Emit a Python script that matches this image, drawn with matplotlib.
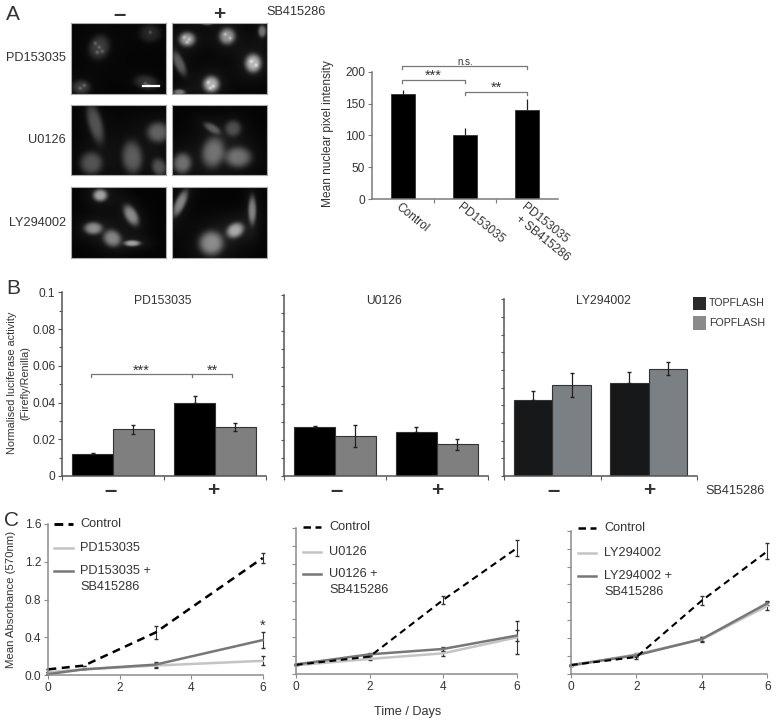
import numpy as np
import matplotlib
matplotlib.use("Agg")
import matplotlib.pyplot as plt

W, H = 778, 722
plt.rcParams['font.family'] = ['Liberation Sans', 'DejaVu Sans']
TXT = '#333333'
AXC = '#7a7a7a'

# panel A bars
a_cats = ['Control', 'PD153035', 'PD153035 + SB415286']
a_vals = [165, 100, 140]
a_errs = [7, 11, 17]

# panel B bars, one list per inhibitor: minus, plus
b_titles = ['PD153035', 'U0126', 'LY294002']
b_top = [[0.0122, 0.0399], [0.0269, 0.0245], [0.0428, 0.0525]]
b_top_err = [[0.0005, 0.0034], [0.0006, 0.0024], [0.0051, 0.0066]]
b_fop = [[0.0254, 0.0265], [0.0219, 0.0175], [0.0515, 0.0608]]
b_fop_err = [[0.0025, 0.0022], [0.0061, 0.0031], [0.0069, 0.0038]]

# panel C curves
c1_days = [0, 1, 3, 6]
c1_control = [0.06, 0.10, 0.45, 1.24]
c1_control_err = [0, 0, 0.065, 0.055]
c1_drug = [0.03, 0.06, 0.10, 0.15]
c1_drug_err = [0, 0, 0.03, 0.048]
c1_combo = [0.01, 0.06, 0.11, 0.37]
c1_combo_err = [0, 0, 0.03, 0.088]

c2_days = [0, 2, 4, 6]
c2_control = [0.10, 0.19, 0.81, 1.375]
c2_control_err = [0, 0.02, 0.045, 0.087]
c2_drug = [0.095, 0.165, 0.226, 0.40]
c2_drug_err = [0, 0.015, 0.025, 0.177]
c2_combo = [0.105, 0.215, 0.274, 0.42]
c2_combo_err = [0, 0.015, 0.025, 0.06]

c3_days = [0, 2, 4, 6]
c3_control = [0.10, 0.19, 0.82, 1.37]
c3_control_err = [0, 0.02, 0.05, 0.09]
c3_drug = [0.09, 0.22, 0.387, 0.76]
c3_drug_err = [0, 0.015, 0.03, 0.04]
c3_combo = [0.10, 0.21, 0.39, 0.79]
c3_combo_err = [0, 0.015, 0.025, 0.02]

# micrograph cells: centre x, centre y, half width, half height, angle, brightness (reference pixels)
cells_pd_minus = [(99, 47, 10, 12, 20, .2), (150, 33, 11, 9, 0, .12), (81, 87, 9, 7, 0, .2), (146, 82, 12, 7, 10, .16)]
cells_pd_plus = [(187, 39, 8, 7, 0, .52), (227, 36, 8, 8, 0, .5), (253, 63, 8, 9, 0, .62), (211, 84, 8, 8, 0, .6),
                 (179, 63, 5, 13, -25, .3), (262, 31, 4, 6, 0, .38), (179, 92, 6, 3, 0, .4), (207, 23, 6, 2, 0, .3)]
cells_u_minus = [(95, 123, 7, 20, -15, .27), (91, 163, 11, 11, 0, .27), (132, 157, 10, 16, -5, .3), (158, 132, 11, 10, 0, .32),
                 (159, 167, 7, 9, -20, .26)]
cells_u_plus = [(212, 128, 9, 4, 30, .27), (233, 128, 8, 8, 0, .23), (213, 152, 11, 15, 10, .36), (238, 157, 13, 10, 0, .36),
                (182, 163, 9, 10, 10, .36)]
cells_ly_minus = [(100, 195, 7, 6, 0, .55), (131, 215, 6, 11, -30, .46), (93, 228, 9, 6, 0, .46), (112, 238, 9, 8, 30, .42),
                  (132, 243, 8, 3, 0, .52)]
cells_ly_plus = [(180, 203, 5, 14, 25, .44), (252, 210, 4, 14, 0, .42), (235, 230, 9, 7, -30, .55), (211, 243, 12, 12, 0, .46)]
# bright nuclear speckles in the upper panels: x, y
spots_pd_minus = [(95, 43), (99, 47), (102, 51), (97, 52), (150, 32), (80, 88), (84, 85), (145, 83), (148, 85)]
spots_pd_plus = [(184, 37), (189, 39), (187, 42), (225, 34), (230, 38), (251, 61), (256, 65), (208, 82), (213, 86), (210, 88)]
panels = [
    (71, 23, 166, 94, cells_pd_minus, spots_pd_minus),
    (172, 23, 267, 94, cells_pd_plus, spots_pd_plus),
    (71, 105, 166, 175, cells_u_minus, []),
    (172, 105, 267, 175, cells_u_plus, []),
    (71, 187, 166, 258, cells_ly_minus, []),
    (172, 187, 267, 258, cells_ly_plus, []),
]


def ax_px(x0, ytop, x1, ybot):
    return fig.add_axes([x0 / W, 1 - ybot / H, (x1 - x0) / W, (ybot - ytop) / H])


def style(ax, color=AXC):
    ax.patch.set_alpha(0)
    ax.spines['top'].set_visible(False)
    ax.spines['right'].set_visible(False)
    ax.spines['left'].set_color(color)
    ax.spines['bottom'].set_color(color)
    ax.spines['left'].set_linewidth(1.1)
    ax.spines['bottom'].set_linewidth(1.1)
    ax.tick_params(color=color, labelcolor=TXT, length=3, width=0.8, pad=2, labelsize=8)


def micrograph(x0, y0, x1, y1, cells, spots):
    xx, yy = np.meshgrid(np.arange(x0, x1, 0.5), np.arange(y0, y1, 0.5))
    img = np.full(xx.shape, 0.015)
    for cx, cy, a, b, ang, level in cells:
        t = np.radians(ang)
        u = ((xx - cx) * np.cos(t) + (yy - cy) * np.sin(t)) / a
        v = (-(xx - cx) * np.sin(t) + (yy - cy) * np.cos(t)) / b
        r2 = u ** 2 + v ** 2
        img += level * np.exp(-r2 ** 1.8) + 0.14 * level * np.exp(-r2 / 5)
    for sx, sy in spots:
        img += 0.2 * np.exp(-((xx - sx) ** 2 + (yy - sy) ** 2) / 2.5)
    ax = ax_px(x0, y0, x1, y1)
    ax.imshow(np.clip(img, 0, 1), cmap='gray', vmin=0, vmax=1, aspect='auto', extent=(x0, x1, y1, y0))
    ax.set_xticks([])
    ax.set_yticks([])
    for s in ax.spines.values():
        s.set_color('#aaaaaa')
        s.set_linewidth(0.8)


fig = plt.figure(figsize=(W / 100, H / 100), dpi=100)

# page layer for labels and brackets, in reference pixels
page = fig.add_axes([0, 0, 1, 1], zorder=10)
page.set_xlim(0, W)
page.set_ylim(H, 0)
page.axis('off')


def label(x, y, s, size=9.2, ha='center', **kw):
    page.text(x, y, s, fontsize=size, ha=ha, va='center', color=kw.pop('color', TXT), **kw)


def bracket(xs, y, color='#777777'):
    page.plot([xs[0], xs[0], xs[-1], xs[-1]], [y + 3, y, y, y + 3], color=color, lw=0.9)
    for x in xs[1:-1]:
        page.plot([x, x], [y, y + 3], color=color, lw=0.9)


label(13, 14, 'A', size=15)
label(13, 288, 'B', size=15)
label(12, 520, 'C', size=15)

# panel A
for x0, y0, x1, y1, cells, spots in panels:
    micrograph(x0, y0, x1, y1, cells, spots)
page.plot([143, 159], [86, 86], color='white', lw=1.6)
label(120, 16, '–', size=16, fontweight='bold')
label(219, 15, '+', size=15, fontweight='bold')
label(296, 12, 'SB415286', size=9.2)
for y, s in [(58, 'PD153035'), (140, 'U0126'), (223, 'LY294002')]:
    label(66, y, s, ha='right')

ax = ax_px(372, 71.7, 558, 199)
style(ax)
ax.bar(range(3), a_vals, width=0.4, color='black', edgecolor='#333333', linewidth=0.6)
ax.errorbar(range(3), a_vals, yerr=[[0, 0, 0], a_errs], fmt='none', ecolor='#222222', elinewidth=0.9, capsize=0)
ax.set_xlim(-0.5, 2.5)
ax.set_ylim(0, 200)
ax.set_yticks([0, 50, 100, 150, 200])
ax.set_xticks([0.5, 1.5])
ax.set_xticklabels([])
ax.tick_params(axis='y', labelsize=8.6)
label(328, 134, 'Mean nuclear pixel intensity', size=8.6, rotation=90)
rot = dict(rotation=-39, rotation_mode='anchor')
page.text(397, 206, a_cats[0], fontsize=8.6, color=TXT, ha='left', va='center', **rot)
page.text(459, 206, a_cats[1], fontsize=8.6, color=TXT, ha='left', va='center', **rot)
page.text(523, 206, 'PD153035', fontsize=8.6, color=TXT, ha='left', va='center', **rot)
page.text(517, 218, '+ SB415286', fontsize=8.6, color=TXT, ha='left', va='center', **rot)
bracket([402.5, 527.5], 66)
bracket([402.5, 465], 79.5)
bracket([465, 527.5], 91.5)
label(465, 62, 'n.s.', size=7)
label(433, 76, '***', size=10.5)
label(496, 88, '**', size=10.5)

# panel B
b_boxes = [(62.3, 292.3, 265.7, 476), (284, 295, 487.7, 476), (504.3, 299.3, 696.7, 476)]
b_colors = [('black', '#7f7f7f'), ('black', '#7f7f7f'), ('#16181a', '#7b8084')]
for i, box in enumerate(b_boxes):
    ax = ax_px(*box)
    style(ax, color='#555555')
    x = np.array([0.5, 1.5])
    w = 0.4
    top, fop = b_colors[i]
    ax.bar(x - w / 2, b_top[i], width=w, color=top, edgecolor='#333333', linewidth=0.8)
    ax.bar(x + w / 2, b_fop[i], width=w, color=fop, edgecolor='#333333', linewidth=0.8)
    ax.errorbar(x - w / 2, b_top[i], yerr=[[0, 0], b_top_err[i]], fmt='none', ecolor='#222222', elinewidth=0.9, capsize=1.2)
    ax.errorbar(x + w / 2, b_fop[i], yerr=b_fop_err[i], fmt='none', ecolor='#222222', elinewidth=0.9, capsize=1.2)
    ax.set_xlim(0, 2)
    ax.set_ylim(0, 0.1)
    ax.set_xticks([0, 1, 2])
    ax.set_xticklabels([])
    ax.set_yticks(np.arange(0, 0.101, 0.01), minor=True)
    ax.tick_params(axis='y', which='minor', length=2.5, width=0.8, color='#555555')
    if i == 0:
        ax.set_yticks([0, 0.02, 0.04, 0.06, 0.08, 0.1])
        ax.set_yticklabels(['0', '0.02', '0.04', '0.06', '0.08', '0.1'])
        ax.tick_params(axis='y', labelsize=8.6)
    else:
        ax.set_yticks([])
for x, s, y in [(163, b_titles[0], 301), (384, b_titles[1], 301), (603, b_titles[2], 301)]:
    label(x, y, s, size=8.7)
for x in [110.7, 336.7, 554]:
    label(x, 491, '–', size=16, fontweight='bold')
for x in [213.7, 437, 649.3]:
    label(x, 491, '+', size=15, fontweight='bold')
label(735, 491, 'SB415286', size=9.2)
label(12, 383, 'Normalised luciferase activity', size=7.8, rotation=90)
label(25, 383, '(Firefly/Renilla)', size=7.8, rotation=90)
bracket([90.7, 192.3, 232.3], 373.7)
label(141, 371, '***', size=10.5)
label(212, 371, '**', size=10.5)
page.fill_between([693, 706], 297, 310, color='#2a2a2a', lw=0)
page.fill_between([693, 706], 316, 330, color='#8a8a8a', lw=0)
label(709, 303, 'TOPFLASH', size=7.7, ha='left')
label(709, 323, 'FOPFLASH', size=7.7, ha='left')

# panel C
c_sets = [
    ((48.3, 524, 262.7, 675), c1_days, c1_control, c1_control_err, c1_drug, c1_drug_err, c1_combo, c1_combo_err),
    ((296, 527.7, 516.7, 674), c2_days, c2_control, c2_control_err, c2_drug, c2_drug_err, c2_combo, c2_combo_err),
    ((571, 530.7, 767.3, 674), c3_days, c3_control, c3_control_err, c3_drug, c3_drug_err, c3_combo, c3_combo_err),
]
LIGHT = '#c4c4c4'
DARK = '#777777'
for i, (box, days, ctrl, ctrl_e, drug, drug_e, combo, combo_e) in enumerate(c_sets):
    ax = ax_px(*box)
    style(ax, color='#8c8c8c')
    for vals, errs, kw in [(drug, drug_e, dict(color=LIGHT, lw=1.8)),
                           (combo, combo_e, dict(color=DARK, lw=1.8)),
                           (ctrl, ctrl_e, dict(color='black', lw=1.8 if i == 0 else 1.5, ls=(0, (3.2, 2.2))))]:
        line, caps, bars = ax.errorbar(days, vals, yerr=errs, ecolor='#333333', elinewidth=0.8, capsize=1.2, **kw)
        line.set_clip_on(False)
        for art in list(caps) + list(bars):
            art.set_clip_on(False)
    ax.set_xlim(0, 6)
    ax.set_ylim(0, 1.6)
    ax.set_xticks([0, 2, 4, 6])
    ax.tick_params(axis='x', labelsize=8.6)
    if i == 0:
        ax.set_yticks([0, 0.4, 0.8, 1.2, 1.6])
        ax.set_yticklabels(['0.0', '0.4', '0.8', '1.2', '1.6'])
        ax.tick_params(axis='y', labelsize=8.6)
    else:
        ax.set_yticks(np.arange(0, 1.61, 0.2))
        ax.set_yticklabels([])

c_legends = [
    (54, 73, 80, (524, 548, 571, 587), 'PD153035', 1.8),
    (303, 321, 329, (527, 552, 574, 590), 'U0126', 1.5),
    (578, 596, 604, (528, 553, 576, 592), 'LY294002', 1.5),
]
for x0, x1, xt, ys, name, lw in c_legends:
    page.plot([x0, x1], [ys[0], ys[0]], color='black', lw=lw + 0.3, ls=(0, (3.0, 1.8)))
    page.plot([x0, x1], [ys[1], ys[1]], color=LIGHT, lw=1.8)
    page.plot([x0, x1], [ys[2], ys[2]], color=DARK, lw=1.8)
    label(xt, ys[0], 'Control', ha='left')
    label(xt, ys[1], name, ha='left')
    label(xt, ys[2], name + ' +', ha='left')
    label(xt, ys[3], 'SB415286', ha='left')
label(263, 626, '*', size=10.5)
label(11, 599, 'Mean Absorbance (570nm)', size=8.2, rotation=90)
label(408, 712, 'Time / Days', size=9.2)

fig.savefig('out.png', dpi=100)
